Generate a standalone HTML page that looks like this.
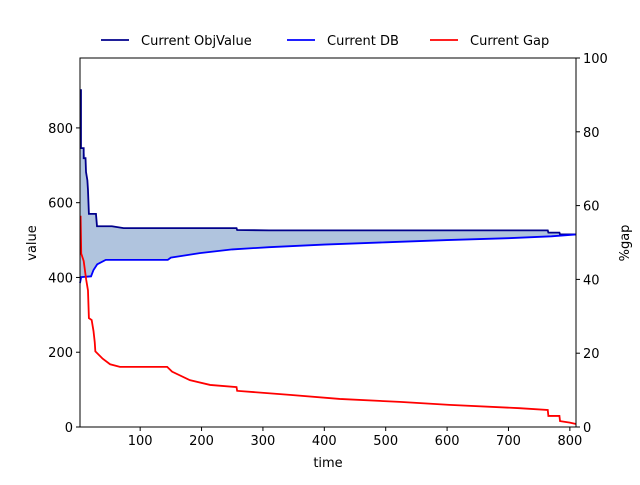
<!DOCTYPE html>
<html><head><meta charset="utf-8"><style>
body{margin:0;background:#fff;font-family:"Liberation Sans","DejaVu Sans",sans-serif}
svg text{font-family:"DejaVu Sans","Liberation Sans",sans-serif;font-size:13px;fill:#000}
</style></head><body>
<svg id="c" width="640" height="480"></svg>
<script>
const objT=[2,3.6,3.6,8,8,11,11.8,14,15,16.5,28,29.7,54,73,257,258,310,764,765,783,784,810];
const objV=[901,901,746,746,719,719,682,660,634,570,570,537,537,532,532,527,526,526,520,520,515,515];
const dbT=[2,4,20,24,30,44,145,150,197,250,310,400,500,600,700,770,810];
const dbV=[385,401,403,420,435,447,447,453,465,475,481,488,494,500,505,510,515];
const gapT=[2,3,4,6,8,12,15,16.5,21,24,26,27,39,51,67,144,152,181,214,257,258,344,425,523,604,718,764,765,783,784,800,810];
const gapV=[57,57,47,46,45,40,37,29.5,29,26,23,20.5,18.5,17,16.3,16.3,15,12.7,11.4,10.8,9.8,8.7,7.6,6.8,6,5.1,4.6,3,3,1.6,1.2,0.8];
const xTicks=[100,200,300,400,500,600,700,800];
const yTicks=[0,200,400,600,800];
const y2Ticks=[0,20,40,60,80,100];
const L=80,R=576,T=58,B=427,XMIN=2,XMAX=810,YMAX=987;
const sx=t=>L+(t-XMIN)/(XMAX-XMIN)*(R-L);
const sy=v=>B-v/YMAX*(B-T);
const sy2=v=>B-v/100*(B-T);
const svg=document.getElementById('c');
const NS='http://www.w3.org/2000/svg';
function mk(tag,attrs,txt){const e=document.createElementNS(NS,tag);for(const k in attrs)e.setAttribute(k,attrs[k]);if(txt!=null)e.textContent=txt;svg.appendChild(e);return e;}
function interp(T_,V,t){if(t<=T_[0])return V[0];for(let i=1;i<T_.length;i++){if(t<=T_[i]){const d=T_[i]-T_[i-1];return d===0?V[i]:V[i-1]+(V[i]-V[i-1])*(t-T_[i-1])/d;}}return V[V.length-1];}
const ts=[...new Set(objT.concat(dbT))].sort((a,b)=>a-b);
let up=[],dn=[];
ts.forEach(t=>{up.push(sx(t)+','+sy(interp(objT,objV,t)));});
ts.slice().reverse().forEach(t=>{dn.push(sx(t)+','+sy(interp(dbT,dbV,t)));});
let f=mk('polygon',{points:up.concat(dn).join(' '),fill:'#b0c4de',stroke:'none'});


function line(T_,V,fy,color,name){const p=T_.map((t,i)=>sx(t)+','+fy(V[i])).join(' ');const e=mk('polyline',{points:p,fill:'none',stroke:color,'stroke-width':1.8});

}
line(objT,objV,sy,'#00008b','obj-value-line');
line(dbT,dbV,sy,'#0000ff','db-line');
line(gapT,gapV,sy2,'#ff0000','gap-line');
let fr=mk('rect',{x:L,y:T,width:R-L,height:B-T,fill:'none',stroke:'#000','stroke-width':1});


xTicks.forEach(v=>{const x=sx(v);mk('line',{x1:x,x2:x,y1:B,y2:B+4,stroke:'#000'});const t=mk('text',{x:x,y:B+18,'text-anchor':'middle'},v);

});
yTicks.forEach(v=>{const y=sy(v);mk('line',{x1:L-4,x2:L,y1:y,y2:y,stroke:'#000'});const t=mk('text',{x:L-7,y:y+5,'text-anchor':'end'},v);

});
y2Ticks.forEach(v=>{const y=sy2(v);mk('line',{x1:R,x2:R+4,y1:y,y2:y,stroke:'#000'});const t=mk('text',{x:R+7,y:y+5,'text-anchor':'start'},v);

});
let xt=mk('text',{x:328,y:467,'text-anchor':'middle'},'time');


let yt=mk('text',{x:0,y:0,'text-anchor':'middle',transform:'translate(36,243) rotate(-90)'},'value');


let y2t=mk('text',{x:0,y:0,'text-anchor':'middle',transform:'translate(629,243) rotate(-90)'},'%gap');


const leg=[['Current ObjValue','#00008b',101],['Current DB','#0000ff',287],['Current Gap','#ff0000',430]];
leg.forEach(l=>{mk('line',{x1:l[2],x2:l[2]+28,y1:40,y2:40,stroke:l[1],'stroke-width':1.8});const t=mk('text',{x:l[2]+40,y:45},l[0]);

});
</script>
</body></html>
